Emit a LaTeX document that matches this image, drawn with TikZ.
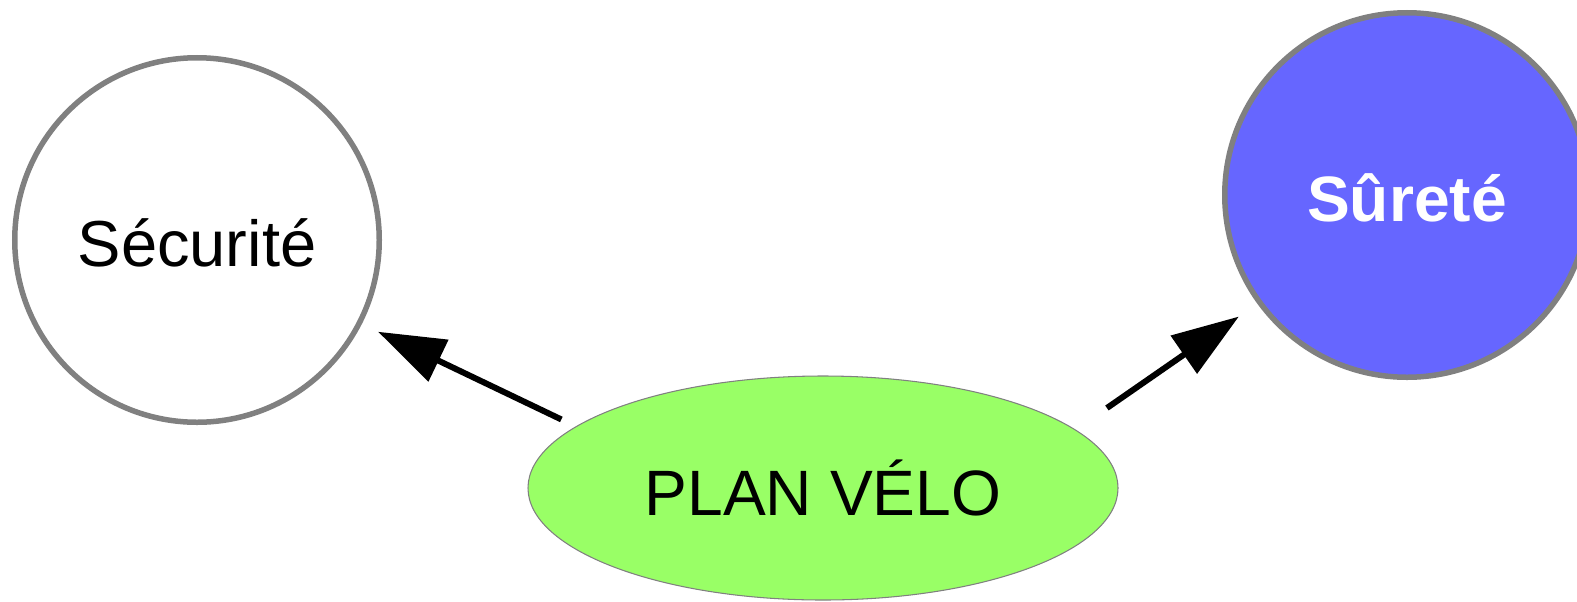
\documentclass[tikz,border=0pt]{standalone}
\usepackage{fontspec}
\setmainfont{Liberation Sans}
\usepackage{xcolor}
\usepackage{tikz}
\usetikzlibrary{arrows.meta,shapes.geometric}
\definecolor{rimgray}{RGB}{128, 128, 128}
\definecolor{surblue}{RGB}{102, 102, 255}
\definecolor{planvert}{RGB}{153, 255, 102}

\begin{document}
\begin{tikzpicture}[x=0.2mm, y=-0.2mm,
	themecirc/.style={circle, minimum size=7.29cm, inner sep=0pt, draw=rimgray, line width=0.11cm, text depth=0pt, font=\fontsize{37}{40}\selectfont},
	link/.style={-{Triangle[length=1.34cm, width=0.9cm]}, line width=0.12cm, draw=black}]
	\useasboundingbox (0,0) rectangle (1577,601);

	\node[themecirc, fill=white, text height=1.04cm] (secu) at (197,240) {Sécurité};
	\node[themecirc, fill=surblue, text=white, text height=1.06cm, font=\fontsize{36.5}{40}\selectfont\bfseries] (surete) at (1407,195) {Sûreté};

	\node[ellipse, minimum width=11.8cm, minimum height=4.48cm, inner sep=0pt, draw=rimgray, line width=0.6pt, fill=planvert, font=\fontsize{36.5}{40}\selectfont] (plan) at (823,488) {PLAN VÉLO};

	\draw[link, shorten <=0.32cm, shorten >=0.36cm] (plan.166.8) -- (secu.-27);
	\draw[link, shorten <=0.76cm, shorten >=0.45cm] (plan.13.5) -- (surete.216.3);
\end{tikzpicture}
\end{document}
